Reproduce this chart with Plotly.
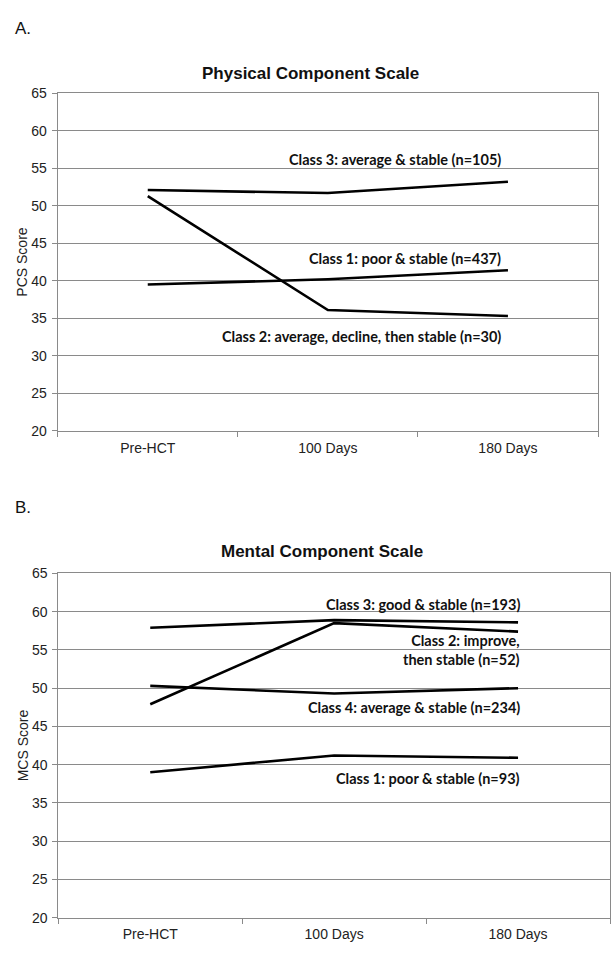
import plotly.graph_objects as go

categories = ["Pre-HCT", "100 Days", "180 Days"]
y_ticks = [20, 25, 30, 35, 40, 45, 50, 55, 60, 65]

# Panel A: Physical Component Scale
pcs_class3 = [52.1, 51.7, 53.2]
pcs_class2 = [51.3, 36.1, 35.3]
pcs_class1 = [39.5, 40.2, 41.4]
pcs_labels = ["Class 3: average & stable (n=105)",
              "Class 1: poor & stable (n=437)",
              "Class 2: average, decline, then stable (n=30)"]
pcs_label_y = [56.2, 43.0, 32.6]

# Panel B: Mental Component Scale
mcs_class3 = [57.9, 58.9, 58.6]
mcs_class2 = [47.9, 58.5, 57.4]
mcs_class4 = [50.3, 49.3, 50.0]
mcs_class1 = [39.0, 41.2, 40.9]
mcs_labels = ["Class 3: good & stable (n=193)",
              "Class 2: improve,<br>then stable (n=52)",
              "Class 4: average & stable (n=234)",
              "Class 1: poor & stable (n=93)"]
mcs_label_y = [61.0, 55.0, 47.5, 38.2]

W, H = 616, 963
fig = go.Figure()

line = dict(color="black", width=2.6)
for s in [pcs_class3, pcs_class2, pcs_class1]:
    fig.add_trace(go.Scatter(x=categories, y=s, mode="lines", line=line,
                             xaxis="x", yaxis="y", showlegend=False, hoverinfo="skip"))
for s in [mcs_class3, mcs_class2, mcs_class4, mcs_class1]:
    fig.add_trace(go.Scatter(x=categories, y=s, mode="lines", line=line,
                             xaxis="x2", yaxis="y2", showlegend=False, hoverinfo="skip"))

def px_x(p):
    return p / W

def px_y(p):
    return 1 - p / H

tickfont = dict(family="Liberation Sans, Arial", size=14, color="#222")
xcommon = dict(type="category", categoryorder="array", categoryarray=categories,
               range=[-0.5, 2.5], showgrid=False, showline=True, linecolor="#8a8a8a",
               linewidth=1, mirror=True, ticks="outside", tickson="boundaries",
               ticklen=5, tickcolor="#8a8a8a", tickfont=tickfont, fixedrange=True,
               ticklabelstandoff=4)
ycommon = dict(range=[20, 65], tickvals=y_ticks, showgrid=True, gridcolor="#8a8a8a",
               gridwidth=1, showline=True, linecolor="#8a8a8a", linewidth=1,
               mirror=True, ticks="outside", ticklen=5, tickcolor="#8a8a8a",
               tickfont=tickfont, zeroline=False, fixedrange=True,
               ticklabelstandoff=2)

fig.update_layout(
    width=W, height=H,
    margin=dict(l=0, r=0, t=0, b=0),
    paper_bgcolor="white", plot_bgcolor="white",
    xaxis=dict(domain=[px_x(57.7), px_x(598)], anchor="y", **xcommon),
    yaxis=dict(domain=[px_y(430), px_y(86.7)], anchor="x",
               title=dict(text="PCS Score", font=dict(family="Liberation Sans, Arial", size=14, color="#222"), standoff=0),
               **ycommon),
    xaxis2=dict(domain=[px_x(58.3), px_x(610)], anchor="y2", **xcommon),
    yaxis2=dict(domain=[px_y(925), px_y(575)], anchor="x2",
                title=dict(text="MCS Score", font=dict(family="Liberation Sans, Arial", size=14, color="#222"), standoff=0),
                **ycommon),
)

ann = []
ann.append(dict(text="A.", x=px_x(13), y=px_y(20.7), xref="paper", yref="paper",
                xanchor="left", yanchor="middle", showarrow=False,
                font=dict(family="Liberation Sans, Arial", size=17, color="#111")))
ann.append(dict(text="B.", x=px_x(13), y=px_y(508), xref="paper", yref="paper",
                xanchor="left", yanchor="middle", showarrow=False,
                font=dict(family="Liberation Sans, Arial", size=17, color="#111")))
ann.append(dict(text="<b>Physical Component Scale</b>", x=px_x(310), y=px_y(66.5),
                xref="paper", yref="paper", xanchor="center", yanchor="middle",
                showarrow=False, font=dict(family="Liberation Sans, Arial", size=17, color="#111")))
ann.append(dict(text="<b>Mental Component Scale</b>", x=px_x(322), y=px_y(553),
                xref="paper", yref="paper", xanchor="center", yanchor="middle",
                showarrow=False, font=dict(family="Liberation Sans, Arial", size=17, color="#111")))

lblfont = dict(family="Lato, Open Sans", size=14.5, color="#111", weight="bold")
for t, yv in zip(pcs_labels, pcs_label_y):
    ann.append(dict(text=t, x=1.97, y=yv, xref="x", yref="y", xanchor="right",
                    yanchor="middle", align="right", showarrow=False, font=lblfont))
for t, yv in zip(mcs_labels, mcs_label_y):
    ann.append(dict(text=t, x=2.02, y=yv, xref="x2", yref="y2", xanchor="right",
                    yanchor="middle", align="right", showarrow=False, font=lblfont))

fig.update_layout(annotations=ann)
fig.write_html("out.html", config={"displayModeBar": False},
               post_script="document.body.style.margin='0';document.body.style.overflow='hidden';")
